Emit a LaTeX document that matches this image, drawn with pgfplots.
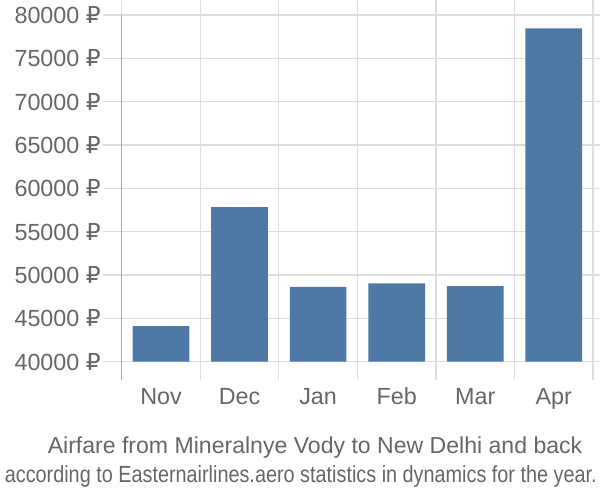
\documentclass[border=0pt]{standalone}
\usepackage{pgfplots}
\pgfplotsset{compat=1.18}
\usepackage{fontspec}
\setmainfont{Liberation Sans}
\newfontfamily\rub{DejaVu Sans}
\newcommand{\R}{{\rub ₽}}
\definecolor{barc}{HTML}{4E79A7}
\definecolor{gridc}{HTML}{DDDDDD}
\definecolor{txt}{HTML}{666666}
\definecolor{axc}{HTML}{A8A8A8}
\begin{document}
\begin{tikzpicture}
\path[use as bounding box] (-91.3pt,-104.2pt) rectangle (358.7pt,271.3pt);
\begin{axis}[
  name=ax, at={(0,0)}, anchor=south west,
  width=353.5pt, height=260pt, scale only axis,
  xmin=-0.5, xmax=5.5, ymin=40000, ymax=80000,
  scaled ticks=false,
  axis line style={draw=none},
  tick align=outside, major tick length=13.7pt,
  tick style={color=gridc, line width=0.9pt},
  xtick={-0.5,0.5,...,5.5}, xticklabels={},
  extra x ticks={0,1,2,3,4,5},
  extra x tick labels={Nov,Dec,Jan,Feb,Mar,Apr},
  extra x tick style={grid=none, major tick length=0pt, tick label style={anchor=base, yshift=-32pt}},
  ytick={40000,45000,50000,55000,60000,65000,70000,75000,80000},
  yticklabels={40000 \R,45000 \R,50000 \R,55000 \R,60000 \R,65000 \R,70000 \R,75000 \R,80000 \R},
  xmajorgrids, ymajorgrids,
  major grid style={color=gridc, line width=0.9pt},
  tick label style={font=\fontsize{17.5pt}{19pt}\selectfont, color=txt},
  yticklabel style={xshift=1.5pt},
]
\addplot[ybar, bar width=42.5pt, fill=barc, draw=none] coordinates {
(0,44120) (1,57850) (2,48650) (3,49050) (4,48730) (5,78470)};
\end{axis}
\draw[axc, line width=0.9pt] (ax.north west) -- (ax.south west) -- ++(0,-13.7pt);
\node[txt, font=\fontsize{17.3pt}{20pt}\selectfont] at (145.0pt,-64.0pt) {Airfare from Mineralnye Vody to New Delhi and back};
\node[txt, font=\fontsize{17.5pt}{20pt}\selectfont] at (134.3pt,-86pt) {\scalebox{0.85}[1]{according to Easternairlines.aero statistics in dynamics for the year.}};
\end{tikzpicture}
\end{document}
